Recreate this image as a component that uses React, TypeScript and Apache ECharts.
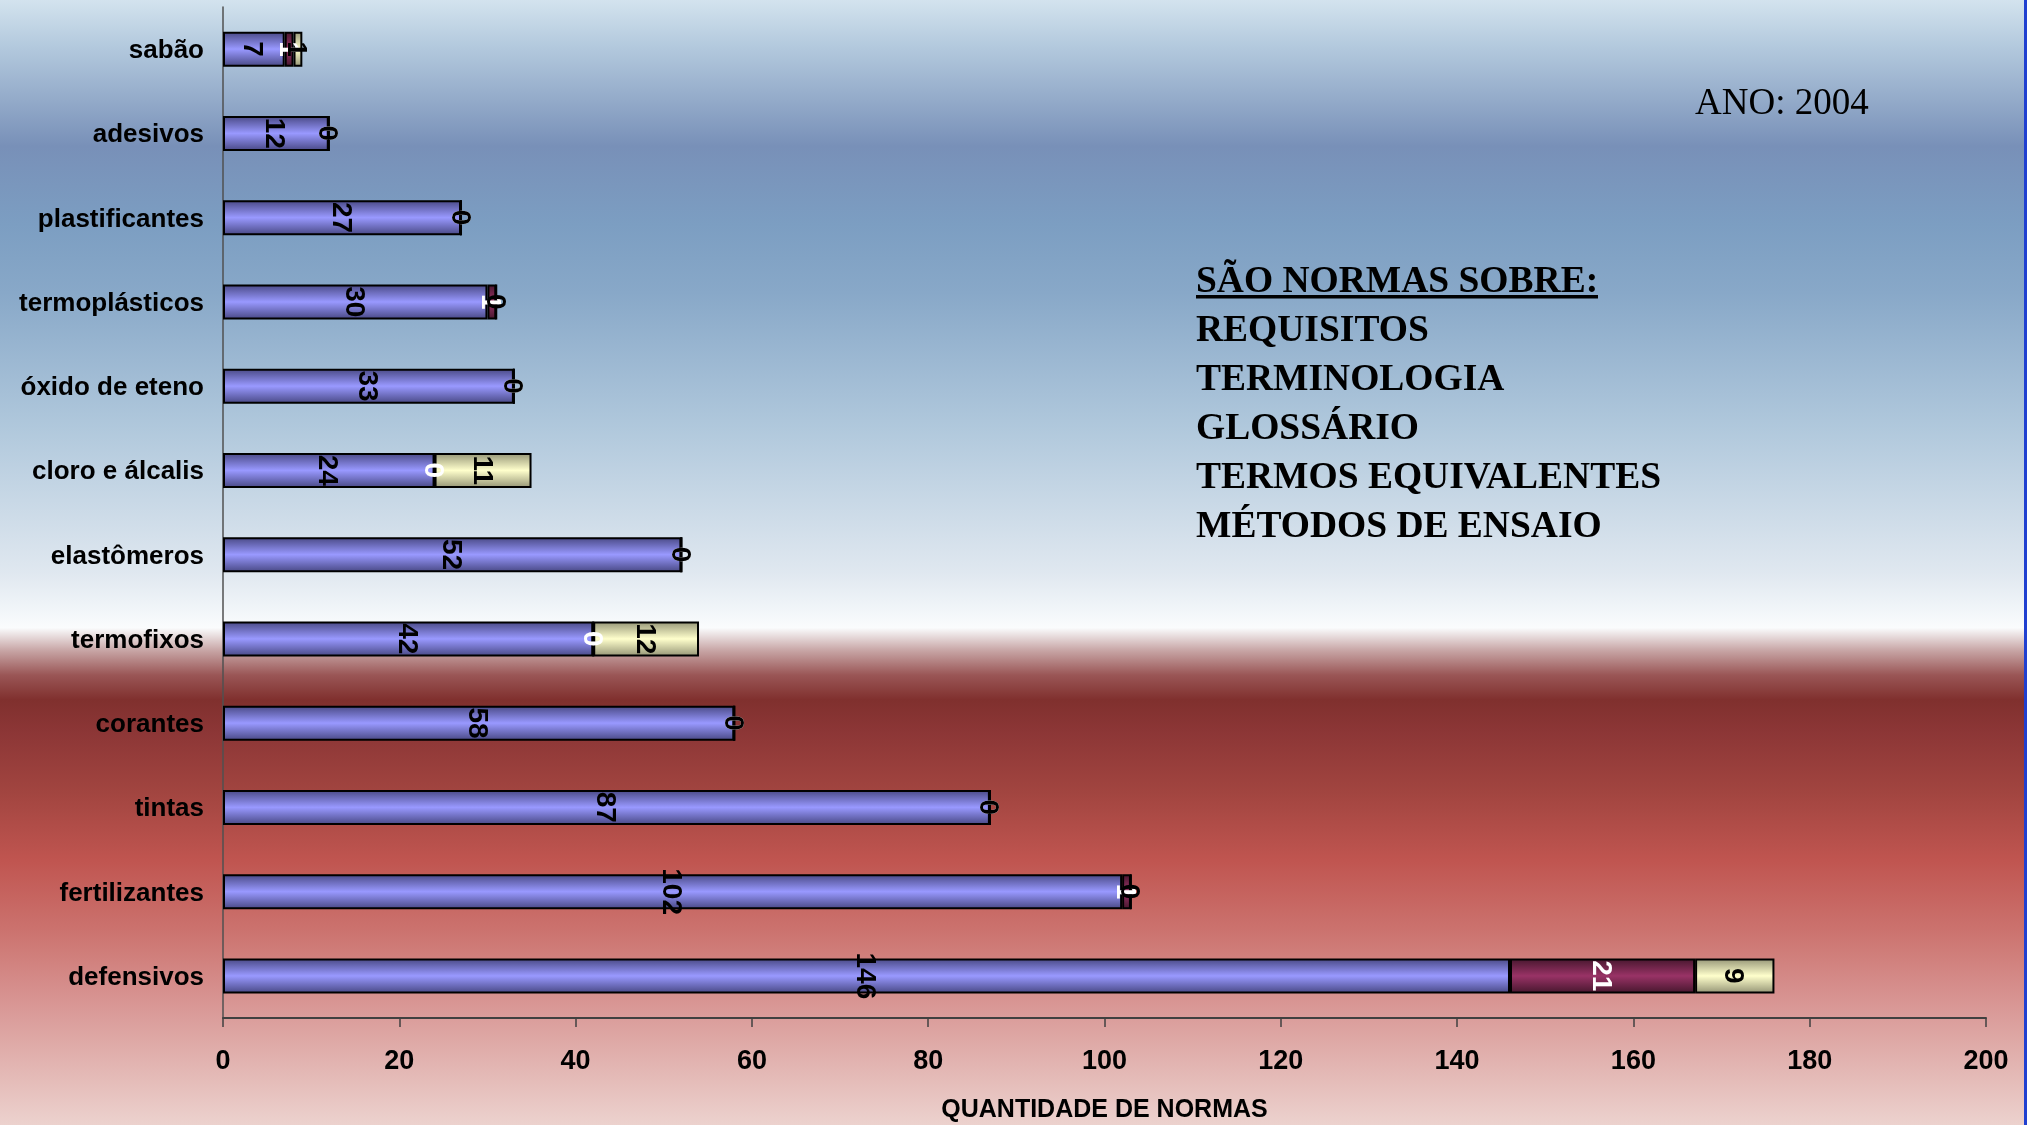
import React, { useEffect, useRef } from "react";
import * as echarts from "echarts";

const categories = [
  "sabão",
  "adesivos",
  "plastificantes",
  "termoplásticos",
  "óxido de eteno",
  "cloro e álcalis",
  "elastômeros",
  "termofixos",
  "corantes",
  "tintas",
  "fertilizantes",
  "defensivos",
];
const serieA = [7, 12, 27, 30, 33, 24, 52, 42, 58, 87, 102, 146];
const serieB = [1, 0, 0, 1, 0, 0, 0, 0, 0, 0, 1, 21];
const serieC = [1, 0, 0, 0, 0, 11, 0, 12, 0, 0, 0, 9];
const xMin = 0;
const xMax = 200;
const xInterval = 20;
const axisName = "QUANTIDADE DE NORMAS";
const yearText = "ANO: 2004";
const noteTitle = "SÃO NORMAS SOBRE:";
const noteLines = [
  "REQUISITOS",
  "TERMINOLOGIA",
  "GLOSSÁRIO",
  "TERMOS EQUIVALENTES",
  "MÉTODOS DE ENSAIO",
];

const W = 2027;
const H = 1125;

function grad(edge: string, mid: string) {
  return new echarts.graphic.LinearGradient(0, 0, 0, 1, [
    { offset: 0, color: edge },
    { offset: 0.5, color: mid },
    { offset: 1, color: edge },
  ]);
}

export default function App() {
  const ref = useRef<HTMLDivElement>(null);
  useEffect(() => {
    if (!ref.current) return;
    const chart = echarts.init(ref.current, null, { renderer: "svg" });
    const labelBase = {
      show: true,
      position: "inside",
      rotate: -90,
      fontFamily: "Liberation Sans, Arial, sans-serif",
      fontWeight: "bold",
      fontSize: 28,
    };
    const mkSeries = (name: string, data: number[], edge: string, mid: string, labelColor: string) => ({
      name,
      type: "bar",
      stack: "total",
      data,
      barWidth: 35,
      itemStyle: { color: grad(edge, mid), borderColor: "#000", borderWidth: 2 },
      label: { ...labelBase, color: labelColor },
      emphasis: { disabled: true },
    });
    const bg = new echarts.graphic.LinearGradient(0, 0, 0, 1, [
      { offset: 0, color: "#d3e3ee" },
      { offset: 0.04, color: "#b4cade" },
      { offset: 0.13, color: "#7890b8" },
      { offset: 0.2, color: "#7c9ec2" },
      { offset: 0.26, color: "#88a8c8" },
      { offset: 0.38, color: "#b0c8dc" },
      { offset: 0.51, color: "#e0e8f0" },
      { offset: 0.558, color: "#fafcfd" },
      { offset: 0.578, color: "#c8a6a6" },
      { offset: 0.6, color: "#9a5656" },
      { offset: 0.622, color: "#80302e" },
      { offset: 0.65, color: "#8c3636" },
      { offset: 0.705, color: "#a24540" },
      { offset: 0.765, color: "#c05550" },
      { offset: 0.83, color: "#cc7470" },
      { offset: 0.89, color: "#d89593" },
      { offset: 1, color: "#ecd2ce" },
    ]);
    const serif = "Liberation Serif, Times New Roman, serif";
    const graphics: any[] = [
      { type: "rect", z: -100, silent: true, shape: { x: 0, y: 0, width: W, height: H }, style: { fill: bg } },
      { type: "rect", z: 100, silent: true, shape: { x: 2024, y: 0, width: 3, height: H }, style: { fill: "#2040d0" } },
      {
        type: "text",
        x: 1695,
        y: 101,
        style: { text: yearText, font: `37px ${serif}`, fill: "#000", verticalAlign: "middle" },
      },
      {
        type: "text",
        x: 1196,
        y: 279.5,
        style: { text: noteTitle, font: `bold 37.5px ${serif}`, fill: "#000", verticalAlign: "middle" },
      },
      { type: "rect", silent: true, shape: { x: 1196, y: 295, width: 402, height: 3.5 }, style: { fill: "#000" } },
      ...noteLines.map((t, i) => ({
        type: "text",
        x: 1196,
        y: 328.5 + i * 49,
        style: { text: t, font: `bold 37.5px ${serif}`, fill: "#000", verticalAlign: "middle" },
      })),
    ];
    chart.setOption({
      animation: false,
      grid: { left: 223, right: 41, top: 7, bottom: 101, containLabel: false },
      xAxis: {
        type: "value",
        min: xMin,
        max: xMax,
        interval: xInterval,
        splitLine: { show: false },
        axisLine: { show: true, lineStyle: { color: "#404040", width: 2 } },
        axisTick: { show: true, length: 9, lineStyle: { color: "#404040", width: 1.5 } },
        axisLabel: {
          margin: 28,
          color: "#000",
          fontFamily: "Liberation Sans, Arial, sans-serif",
          fontWeight: "bold",
          fontSize: 27,
        },
        name: axisName,
        nameLocation: "middle",
        nameGap: 77,
        nameTextStyle: {
          color: "#000",
          fontFamily: "Liberation Sans, Arial, sans-serif",
          fontWeight: "bold",
          fontSize: 25,
        },
      },
      yAxis: {
        type: "category",
        data: categories,
        inverse: true,
        axisLine: { show: true, lineStyle: { color: "#505050", width: 1.5 } },
        axisTick: { show: false },
        axisLabel: {
          margin: 19,
          color: "#000",
          fontFamily: "Liberation Sans, Arial, sans-serif",
          fontWeight: "bold",
          fontSize: 26,
        },
      },
      series: [
        mkSeries("Série 1", serieA, "#4c4c8a", "#9999ff", "#000"),
        mkSeries("Série 2", serieB, "#4a1830", "#993366", "#fff"),
        mkSeries("Série 3", serieC, "#9a9a7a", "#ffffcc", "#000"),
      ],
      graphic: graphics,
    });
    return () => chart.dispose();
  }, []);
  return (
    <div
      ref={ref}
      style={{ position: "fixed", left: 0, top: 0, width: W + "px", height: H + "px" }}
    />
  );
}
